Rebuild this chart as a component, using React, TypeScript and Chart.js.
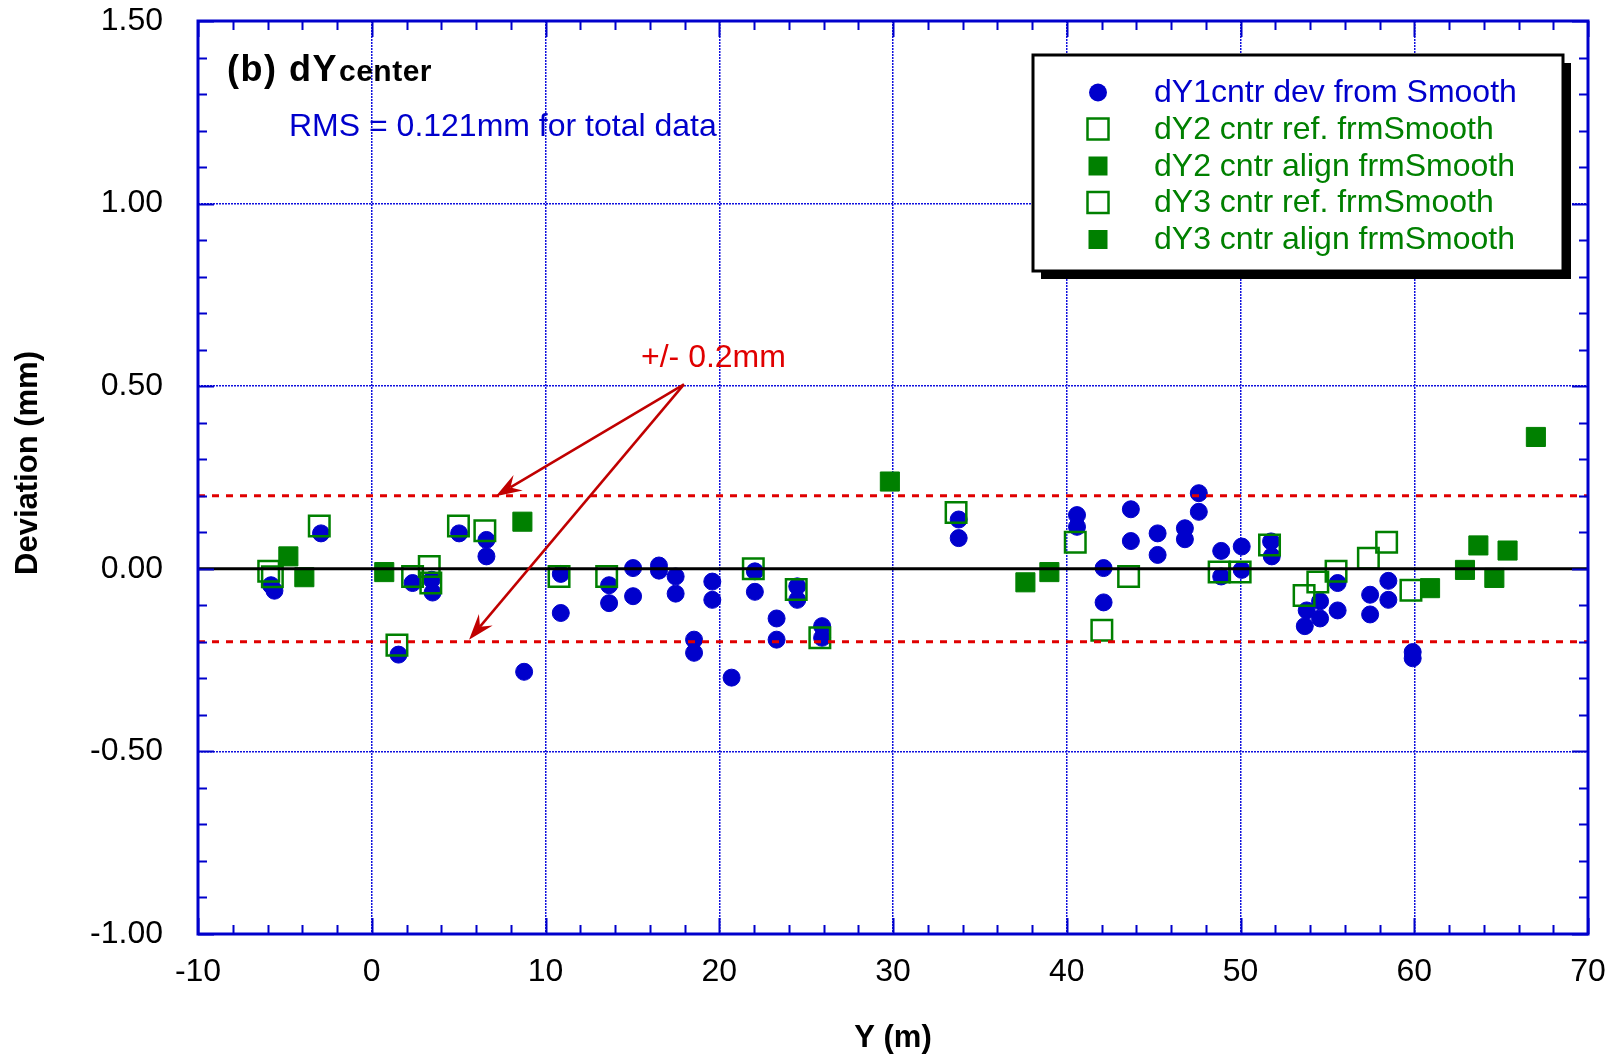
import React, { useEffect, useRef } from 'react';
import { Chart, registerables } from 'chart.js';

Chart.register(...registerables);

const FONT = "'Liberation Sans', Arial, Helvetica, sans-serif";

// axis ranges / ticks
const xMin = -10;
const xMax = 70;
const xStep = 10;
const xMinorStep = 2;
const yMin = -1.0;
const yMax = 1.5;
const yStep = 0.5;
const yMinorStep = 0.1;

const seriesLabels = [
  'dY1cntr dev from Smooth',
  'dY2 cntr ref. frmSmooth',
  'dY2 cntr align frmSmooth',
  'dY3 cntr ref. frmSmooth',
  'dY3 cntr align frmSmooth',
];

const titleMain = '(b) dY';
const titleSub = 'center';
const rmsText = 'RMS = 0.121mm for total data';
const tolText = '+/- 0.2mm';
const tolerance = 0.2;
const xTitle = 'Y (m)';
const yTitle = 'Deviation (mm)';

// [Y (m), deviation (mm)]
const dY1cntr: [number, number][] = [
  [-5.8, -0.045], [-5.6, -0.06], [-2.92, 0.097], [1.54, -0.235], [2.35, -0.039],
  [3.45, -0.03], [3.5, -0.065], [5.03, 0.097], [6.6, 0.079], [6.6, 0.034],
  [8.77, -0.282], [10.88, -0.014], [10.88, -0.121], [13.66, -0.045], [13.66, -0.094],
  [15.04, 0.002], [15.04, -0.075], [16.53, 0.009], [16.53, -0.005], [17.49, -0.021],
  [17.49, -0.068], [18.55, -0.194], [18.55, -0.23], [19.6, -0.035], [19.6, -0.085],
  [20.71, -0.298], [22.05, -0.007], [22.05, -0.063], [23.3, -0.136], [23.3, -0.194],
  [24.49, -0.048], [24.49, -0.085], [25.92, -0.157], [25.92, -0.189], [33.78, 0.135],
  [33.78, 0.084], [40.59, 0.147], [40.59, 0.115], [42.12, 0.002], [42.12, -0.092],
  [43.69, 0.163], [43.69, 0.076], [45.23, 0.097], [45.23, 0.038], [46.8, 0.111],
  [46.8, 0.081], [47.6, 0.207], [47.6, 0.156], [48.89, 0.049], [48.89, -0.021],
  [50.07, 0.061], [50.07, -0.003], [51.76, 0.075], [51.8, 0.034], [53.81, -0.114],
  [53.7, -0.157], [54.58, -0.089], [54.58, -0.136], [55.59, -0.039], [55.59, -0.114],
  [57.46, -0.071], [57.46, -0.125], [58.51, -0.033], [58.51, -0.085], [59.91, -0.228],
  [59.91, -0.245],
];

const dY2ref: [number, number][] = [
  [-5.93, -0.007], [-5.72, -0.022], [-3.02, 0.117], [1.45, -0.209], [2.35, -0.021],
  [3.31, 0.006], [3.4, -0.039], [4.99, 0.117], [6.51, 0.104], [10.78, -0.021],
  [13.52, -0.021], [21.96, 0.0], [24.43, -0.057], [25.79, -0.189], [33.63, 0.154],
];

const dY2align: [number, number][] = [
  [-4.8, 0.034], [-3.88, -0.023], [0.72, -0.009], [8.67, 0.129], [29.82, 0.239],
];

const dY3ref: [number, number][] = [
  [40.49, 0.073], [42.02, -0.168], [43.56, -0.021], [48.77, -0.009], [49.98, -0.009],
  [51.67, 0.065], [53.66, -0.073], [54.45, -0.036], [55.5, -0.007], [57.36, 0.029],
  [58.41, 0.073], [59.81, -0.059],
];

const dY3align: [number, number][] = [
  [37.62, -0.037], [39.0, -0.009], [60.91, -0.053], [62.92, -0.003], [63.69, 0.064],
  [64.61, -0.025], [65.37, 0.05], [67.0, 0.361],
];

// annotation arrows: from label point to the tolerance lines (data coords)
const arrowStart: [number, number] = [17.97, 0.505];
const arrowTips: [number, number][] = [[7.14, 0.199], [5.6, -0.194]];

const BLUE = '#0000CC';
const GRID = '#1010DD';
const GREEN = '#008000';
const RED = '#E00000';
const DARKRED = '#C00000';

const toPts = (a: [number, number][]) => a.map(([x, y]) => ({ x, y }));

function drawArrow(ctx: CanvasRenderingContext2D, x1: number, y1: number, x2: number, y2: number) {
  const ang = Math.atan2(y2 - y1, x2 - x1);
  const c = Math.cos(ang), s = Math.sin(ang);
  const len = 26, half = 9, notch = 17;
  ctx.beginPath();
  ctx.moveTo(x1, y1);
  ctx.lineTo(x2 - c * notch, y2 - s * notch);
  ctx.stroke();
  ctx.beginPath();
  ctx.moveTo(x2, y2);
  ctx.lineTo(x2 - len * c + half * s, y2 - len * s - half * c);
  ctx.lineTo(x2 - notch * c, y2 - notch * s);
  ctx.lineTo(x2 - len * c - half * s, y2 - len * s + half * c);
  ctx.closePath();
  ctx.fill();
}

const decorPlugin = {
  id: 'decor',
  afterDatasetsDraw(chart: any) {
    const ctx: any = chart.ctx;
    const xs = chart.scales.x;
    const ys = chart.scales.y;
    const { left, right, top, bottom } = chart.chartArea;

    ctx.save();
    // inward ticks
    ctx.strokeStyle = BLUE;
    ctx.lineWidth = 2;
    ctx.beginPath();
    for (let v = xMin; v <= xMax + 1e-9; v += xMinorStep) {
      const major = Math.abs(v / xStep - Math.round(v / xStep)) < 1e-6;
      const len = major ? 16 : 9;
      const px = Math.round(xs.getPixelForValue(v)) + 0.5;
      ctx.moveTo(px, bottom); ctx.lineTo(px, bottom - len);
      ctx.moveTo(px, top); ctx.lineTo(px, top + len);
    }
    for (let i = 0; i <= Math.round((yMax - yMin) / yMinorStep); i++) {
      const v = yMin + i * yMinorStep;
      const major = Math.abs(v / yStep - Math.round(v / yStep)) < 1e-6;
      const len = major ? 16 : 9;
      const py = Math.round(ys.getPixelForValue(v)) + 0.5;
      ctx.moveTo(left, py); ctx.lineTo(left + len, py);
      ctx.moveTo(right, py); ctx.lineTo(right - len, py);
    }
    ctx.stroke();
    // frame
    ctx.lineWidth = 3;
    ctx.strokeRect(left, top, right - left, bottom - top);

    // arrows
    ctx.strokeStyle = DARKRED;
    ctx.fillStyle = DARKRED;
    ctx.lineWidth = 2.5;
    const sx = xs.getPixelForValue(arrowStart[0]);
    const sy = ys.getPixelForValue(arrowStart[1]);
    arrowTips.forEach(([tx, ty]) => {
      drawArrow(ctx, sx, sy, xs.getPixelForValue(tx), ys.getPixelForValue(ty));
    });

    // texts
    ctx.textBaseline = 'alphabetic';
    ctx.textAlign = 'left';
    ctx.fillStyle = RED;
    ctx.font = `32px ${FONT}`;
    ctx.fillText(tolText, 641, 367);

    ctx.fillStyle = '#000';
    ctx.font = `bold 36px ${FONT}`;
    ctx.letterSpacing = '1.5px';
    ctx.fillText(titleMain, 227, 81);
    ctx.font = `bold 30px ${FONT}`;
    ctx.letterSpacing = '0.5px';
    ctx.fillText(titleSub, 339, 81);
    ctx.letterSpacing = '0px';

    ctx.fillStyle = BLUE;
    ctx.font = `32px ${FONT}`;
    ctx.fillText(rmsText, 289, 136);

    // y-axis title
    ctx.save();
    ctx.translate(28, 463);
    ctx.rotate(-Math.PI / 2);
    ctx.textAlign = 'center';
    ctx.textBaseline = 'middle';
    ctx.fillStyle = '#000';
    ctx.font = `bold 31px ${FONT}`;
    ctx.fillText(yTitle, 0, 0);
    ctx.restore();

    // legend box
    const bx = 1033, by = 55, bw = 530, bh = 216, sh = 8;
    ctx.fillStyle = '#000';
    ctx.fillRect(bx + sh, by + sh, bw, bh);
    ctx.fillStyle = '#fff';
    ctx.fillRect(bx, by, bw, bh);
    ctx.strokeStyle = '#000';
    ctx.lineWidth = 3;
    ctx.strokeRect(bx, by, bw, bh);

    const rowY = [92.5, 129, 166, 202.5, 239.5];
    const mx = 1098;
    const tx = 1154;
    ctx.font = `32px ${FONT}`;
    ctx.textBaseline = 'middle';
    for (let i = 0; i < 5; i++) {
      const ds = chart.data.datasets[i];
      const y = rowY[i];
      const col = ds.borderColor;
      if (ds.pointStyle === 'circle') {
        ctx.fillStyle = col;
        ctx.beginPath();
        ctx.arc(mx, y, 9, 0, Math.PI * 2);
        ctx.fill();
      } else if (ds.backgroundColor === 'rgba(0,0,0,0)') {
        ctx.strokeStyle = col;
        ctx.lineWidth = 2.5;
        ctx.strokeRect(mx - 10.5, y - 10.5, 21, 21);
      } else {
        ctx.fillStyle = col;
        ctx.fillRect(mx - 9.5, y - 9.5, 19, 19);
      }
      ctx.fillStyle = col;
      ctx.fillText(ds.label, tx, y + 1);
    }
    ctx.restore();
  },
};

export default function App() {
  const ref = useRef<HTMLCanvasElement | null>(null);

  useEffect(() => {
    document.body.style.margin = '0';
    const canvas = ref.current;
    if (!canvas) return;

    const openSq = (label: string, data: [number, number][]) => ({
      label,
      data: toPts(data),
      pointStyle: 'rect',
      pointRadius: 14.5,
      borderWidth: 2.5,
      borderColor: GREEN,
      backgroundColor: 'rgba(0,0,0,0)',
      order: 3,
    });
    const fillSq = (label: string, data: [number, number][]) => ({
      label,
      data: toPts(data),
      pointStyle: 'rect',
      pointRadius: 13.5,
      borderWidth: 1,
      borderColor: GREEN,
      backgroundColor: GREEN,
      order: 2,
    });
    const hLine = (y: number, color: string, dash: number[]) => ({
      label: '',
      data: [{ x: xMin, y }, { x: xMax, y }],
      showLine: true,
      pointRadius: 0,
      borderColor: color,
      backgroundColor: color,
      borderWidth: 3,
      borderDash: dash,
      order: 0,
    });

    const chart = new Chart(canvas, {
      type: 'scatter',
      data: {
        datasets: [
          {
            label: seriesLabels[0],
            data: toPts(dY1cntr),
            pointStyle: 'circle',
            pointRadius: 8.5,
            borderWidth: 1,
            borderColor: BLUE,
            backgroundColor: BLUE,
            order: 5,
          },
          openSq(seriesLabels[1], dY2ref),
          fillSq(seriesLabels[2], dY2align),
          openSq(seriesLabels[3], dY3ref),
          fillSq(seriesLabels[4], dY3align),
          hLine(0, '#000', []),
          hLine(tolerance, RED, [7, 7]),
          hLine(-tolerance, RED, [7, 7]),
        ] as any,
      },
      options: {
        animation: false,
        responsive: false,
        events: [],
        layout: { padding: { left: 0, top: 21, right: 32, bottom: 0 } },
        plugins: {
          legend: { display: false },
          tooltip: { enabled: false },
        },
        scales: {
          x: {
            type: 'linear',
            min: xMin,
            max: xMax,
            afterFit: (s: any) => { s.height = 125; },
            ticks: {
              stepSize: xStep,
              padding: 0,
              color: '#000',
              font: { family: FONT, size: 32 },
              maxRotation: 0,
              callback: (v: any) => String(v),
            },
            grid: {
              color: GRID,
              lineWidth: 1.5,
              drawTicks: true,
              tickLength: 19,
              tickColor: 'rgba(0,0,0,0)',
            },
            border: { display: false, dash: [2, 1] },
            title: {
              display: true,
              text: xTitle,
              color: '#000',
              font: { family: FONT, size: 31, weight: 'bold' },
              padding: { top: 0, bottom: 2 },
            },
          },
          y: {
            type: 'linear',
            min: yMin,
            max: yMax,
            afterFit: (s: any) => { s.width = 198; },
            ticks: {
              stepSize: yStep,
              padding: 0,
              color: '#000',
              font: { family: FONT, size: 32 },
              callback: (v: any) => Number(v).toFixed(2),
            },
            grid: {
              color: GRID,
              lineWidth: 1.5,
              drawTicks: true,
              tickLength: 35,
              tickColor: 'rgba(0,0,0,0)',
            },
            border: { display: false, dash: [2, 1] },
          },
        },
      } as any,
      plugins: [decorPlugin],
    });

    return () => chart.destroy();
  }, []);

  return (
    <div style={{ width: 1620, height: 1059, background: '#fff' }}>
      <canvas ref={ref} width={1620} height={1059} style={{ display: 'block' }} />
    </div>
  );
}
